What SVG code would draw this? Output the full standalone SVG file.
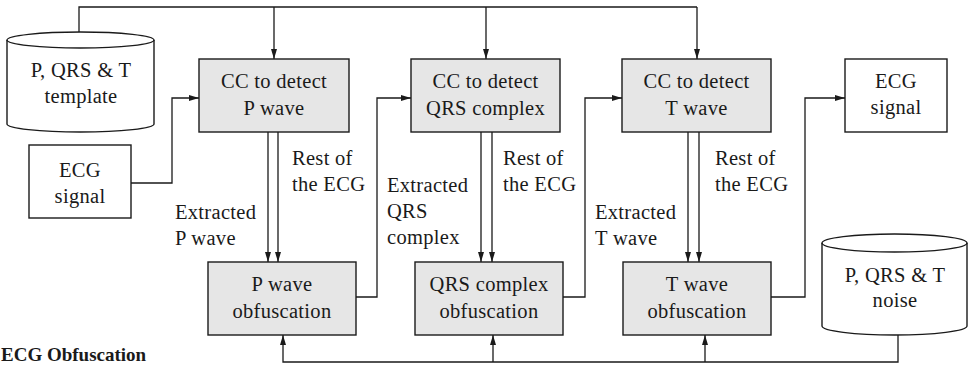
<svg xmlns="http://www.w3.org/2000/svg" width="971" height="365" viewBox="0 0 971 365">
<style>
.box{fill:#e6e6e6;stroke:#1a1a1a;stroke-width:1.4}
.wbox{fill:#fff;stroke:#1a1a1a;stroke-width:1.4}
.cyl{fill:#fff;stroke:#1a1a1a;stroke-width:1.4}
.t{font-family:"Liberation Serif","Times New Roman",serif;font-size:20.5px;letter-spacing:0.3px;fill:#1a1a1a}
.c{text-anchor:middle}
.ln{fill:none;stroke:#1a1a1a;stroke-width:1.3}
.ar{fill:none;stroke:#1a1a1a;stroke-width:1.3;marker-end:url(#ah)}
</style>
<defs>
<marker id="ah" markerUnits="userSpaceOnUse" markerWidth="10" markerHeight="6" viewBox="0 0 10 6" refX="10" refY="3" orient="auto">
<path d="M0,0 L10,3 L0,6 Z" fill="#1a1a1a"/>
</marker>
</defs>
<rect width="971" height="365" fill="#fff"/>
<g id="connectors">
<path class="ln" d="M79,32 V7 H697"/>
<path class="ar" d="M697,7 V59"/>
<path class="ar" d="M274,7 V59"/>
<path class="ar" d="M486,7 V59"/>
<path class="ar" d="M131,183 H172 V98 H199"/>
<path class="ar" d="M356,297 H377 V98 H411"/>
<path class="ar" d="M563,297 H585 V98 H622"/>
<path class="ar" d="M771,297 H805 V98 H845"/>
<path class="ar" d="M268,132 V262"/>
<path class="ar" d="M278,132 V262"/>
<path class="ar" d="M481,132 V262"/>
<path class="ar" d="M492,132 V262"/>
<path class="ar" d="M688,132 V262"/>
<path class="ar" d="M699,132 V262"/>
<path class="ar" d="M898,335 V362 H283 V335"/>
<path class="ar" d="M493,362 V335"/>
<path class="ar" d="M705,362 V335"/>
<text class="t" x="292" y="165">Rest of</text>
<text class="t" x="292" y="191">the ECG</text>
<text class="t" x="175" y="219">Extracted</text>
<text class="t" x="175" y="245">P wave</text>
<text class="t" x="503" y="165">Rest of</text>
<text class="t" x="503" y="191">the ECG</text>
<text class="t" x="387" y="192">Extracted</text>
<text class="t" x="387" y="218">QRS</text>
<text class="t" x="387" y="244">complex</text>
<text class="t" x="715" y="165">Rest of</text>
<text class="t" x="715" y="191">the ECG</text>
<text class="t" x="595" y="219">Extracted</text>
<text class="t" x="595" y="245">T wave</text>
</g>
<g id="template">
<path class="cyl" d="M7,40 A73.5,8 0 0 1 154,40 V124 A73.5,8 0 0 1 7,124 Z"/>
<path class="ln" d="M7,40 A73.5,8 0 0 0 154,40" style="stroke-width:1.4"/>
<text class="t c" x="81" y="77">P, QRS &amp; T</text>
<text class="t c" x="81" y="103">template</text>
</g>
<g id="ecg-in">
<rect class="wbox" x="29" y="145" width="102" height="73"/>
<text class="t c" x="80" y="177">ECG</text>
<text class="t c" x="80" y="203">signal</text>
</g>
<g id="cc-p">
<rect class="box" x="199" y="59" width="150" height="73"/>
<text class="t c" x="274" y="88">CC to detect</text>
<text class="t c" x="274" y="115">P wave</text>
</g>
<g id="cc-qrs">
<rect class="box" x="411" y="59" width="149" height="73"/>
<text class="t c" x="485.5" y="88">CC to detect</text>
<text class="t c" x="485.5" y="115">QRS complex</text>
</g>
<g id="cc-t">
<rect class="box" x="622" y="59" width="149" height="73"/>
<text class="t c" x="696.5" y="88">CC to detect</text>
<text class="t c" x="696.5" y="115">T wave</text>
</g>
<g id="ecg-out">
<rect class="wbox" x="845" y="59" width="102" height="73"/>
<text class="t c" x="896" y="88">ECG</text>
<text class="t c" x="896" y="114">signal</text>
</g>
<g id="obf-p">
<rect class="box" x="208" y="262" width="148" height="73"/>
<text class="t c" x="282" y="291">P wave</text>
<text class="t c" x="282" y="318">obfuscation</text>
</g>
<g id="obf-qrs">
<rect class="box" x="415" y="262" width="148" height="73"/>
<text class="t c" x="489" y="291">QRS complex</text>
<text class="t c" x="489" y="318">obfuscation</text>
</g>
<g id="obf-t">
<rect class="box" x="623" y="262" width="148" height="73"/>
<text class="t c" x="697" y="291">T wave</text>
<text class="t c" x="697" y="318">obfuscation</text>
</g>
<g id="noise">
<path class="cyl" d="M822,243 A72.5,9 0 0 1 967,243 V326 A72.5,9 0 0 1 822,326 Z"/>
<path class="ln" d="M822,243 A72.5,9 0 0 0 967,243" style="stroke-width:1.4"/>
<text class="t c" x="895" y="282">P, QRS &amp; T</text>
<text class="t c" x="895" y="307">noise</text>
</g>
<g id="caption">
<text class="t" x="1" y="361" style="font-weight:bold;font-size:19px;letter-spacing:0">ECG Obfuscation</text>
</g>
</svg>
